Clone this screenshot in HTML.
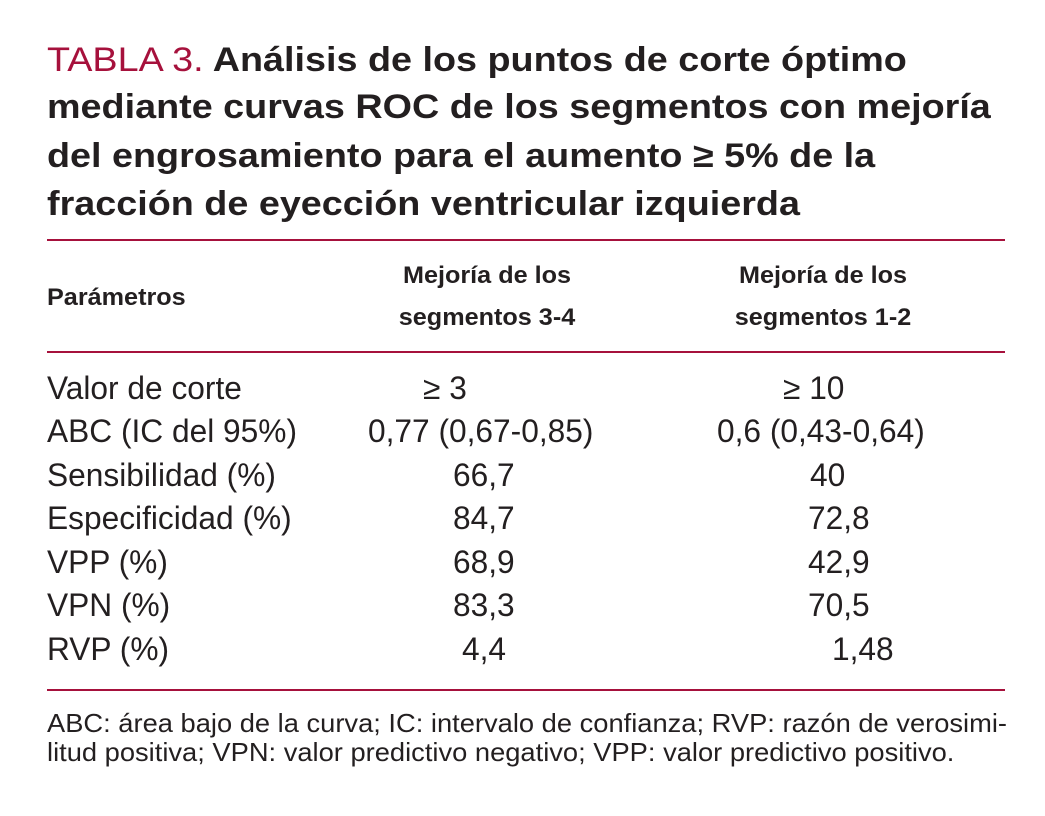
<!DOCTYPE html>
<html><head><meta charset="utf-8"><style>
html,body{margin:0;padding:0;background:#fff;}
#page{position:relative;width:1045px;height:816px;overflow:hidden;font-family:"Liberation Sans",sans-serif;color:#231f20;}
.t{position:absolute;white-space:nowrap;transform-origin:left center;line-height:1;}
.title{font-size:34px;font-weight:bold;transform:scaleX(1.11);}
.red{color:#a6113c;font-weight:normal;}
.body{font-size:32px;transform:scaleX(0.99);}
.hdr{font-size:24px;font-weight:bold;transform:scaleX(1.05);}
.c{transform-origin:center center;text-align:center;}
.foot{font-size:26px;transform:scaleX(1.05);}
.rule{position:absolute;left:47px;width:958px;height:2px;background:#a6113c;}
</style></head><body>
<div id="page">
<div class="t title" style="left:47px;top:43px"><span class="red">TABLA 3.</span> Análisis de los puntos de corte óptimo</div>
<div class="t title" style="left:47px;top:90px">mediante curvas ROC de los segmentos con mejoría</div>
<div class="t title" style="left:47px;top:139px">del engrosamiento para el aumento ≥ 5% de la</div>
<div class="t title" style="left:47px;top:187px">fracción de eyección ventricular izquierda</div>

<div class="rule" style="top:239px"></div>
<div class="t hdr" style="left:47px;top:286px">Parámetros</div>
<div class="t hdr c" style="left:387px;width:200px;top:264px">Mejoría de los</div>
<div class="t hdr c" style="left:387px;width:200px;top:306px">segmentos 3-4</div>
<div class="t hdr c" style="left:723px;width:200px;top:264px">Mejoría de los</div>
<div class="t hdr c" style="left:723px;width:200px;top:306px">segmentos 1-2</div>
<div class="rule" style="top:351px"></div>

<div class="rule" style="top:689px"></div>
<div class="t foot" style="left:47px;top:710px">ABC: área bajo de la curva; IC: intervalo de confianza; RVP: razón de verosimi-</div>
<div class="t foot" style="left:47px;top:739px">litud positiva; VPN: valor predictivo negativo; VPP: valor predictivo positivo.</div>
</div>
<script>
const params=["Valor de corte","ABC (IC del 95%)","Sensibilidad (%)","Especificidad (%)","VPP (%)","VPN (%)","RVP (%)"];
const col1=["≥ 3","0,77 (0,67-0,85)","66,7","84,7","68,9","83,3","4,4"];
const col2=["≥ 10","0,6 (0,43-0,64)","40","72,8","42,9","70,5","1,48"];
const c1x=[423,368,453,453,453,453,462];
const c2x=[783,717,810,808,808,808,832];
const rows=document.getElementById('page');
params.forEach((p,i)=>{
  const y=371.5+i*43.5;
  const mk=(txt,x,name)=>{const d=document.createElement('div');d.className='t body';d.style.left=x+'px';d.style.top=y+'px';d.textContent=txt;
    
    
    rows.appendChild(d);};
  mk(p,47,'row-label');
  mk(col1[i],c1x[i],'cell-segmentos-3-4');
  mk(col2[i],c2x[i],'cell-segmentos-1-2');
});
</script>
</body></html>
